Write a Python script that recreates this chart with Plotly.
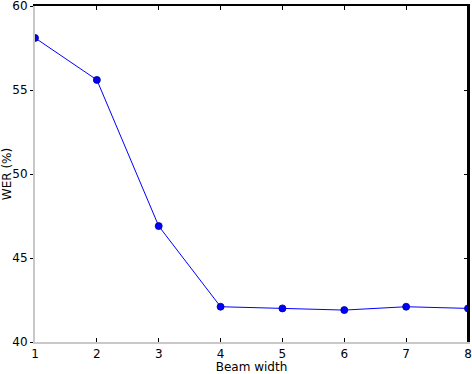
import plotly.graph_objects as go

beam_width = [1, 2, 3, 4, 5, 6, 7, 8]
wer = [58.1, 55.6, 46.9, 42.1, 42.0, 41.9, 42.1, 42.0]
x_ticks = [1, 2, 3, 4, 5, 6, 7, 8]
y_ticks = [40, 45, 50, 55, 60]

fig = go.Figure()
fig.add_trace(go.Scatter(
    x=beam_width, y=wer, mode="lines+markers",
    line=dict(color="#0000ff", width=1),
    marker=dict(color="#0000ff", size=7, line=dict(color="#000080", width=0.8)),
    showlegend=False, cliponaxis=True,
))
# invisible trace to anchor the mirrored (top/right) axes
fig.add_trace(go.Scatter(x=beam_width, y=wer, xaxis="x2", yaxis="y2",
                         mode="lines", line=dict(width=0), opacity=0,
                         showlegend=False, hoverinfo="skip"))

font = dict(family="DejaVu Sans", size=12, color="black")
fig.update_layout(
    width=472, height=374,
    margin=dict(l=35, r=4, t=6, b=32, autoexpand=False),
    plot_bgcolor="white", paper_bgcolor="white",
    font=font,
    xaxis=dict(range=[1, 8], tickvals=x_ticks, showgrid=False, zeroline=False,
               showline=True, linecolor="#c8c8c8", linewidth=2,
               ticks="inside", ticklen=4, tickcolor="black", tickwidth=1,
               automargin=False, ticklabeloverflow="allow",
               title=dict(text="Beam width", standoff=2, font=font)),
    yaxis=dict(range=[40, 60], tickvals=y_ticks, showgrid=False, zeroline=False,
               showline=True, linecolor="#c8c8c8", linewidth=2,
               ticks="outside", ticklen=3, tickcolor="black", tickwidth=1,
               automargin=False, ticklabeloverflow="allow",
               title=dict(text="WER (%)", standoff=4, font=font)),
    xaxis2=dict(range=[1, 8], tickvals=x_ticks, overlaying="x", side="top",
                showgrid=False, zeroline=False, showticklabels=False,
                showline=True, linecolor="black", linewidth=2, automargin=False,
                ticks="inside", ticklen=4, tickcolor="black", anchor="y2"),
    yaxis2=dict(range=[40, 60], tickvals=y_ticks, overlaying="y", side="right",
                showgrid=False, zeroline=False, showticklabels=False,
                showline=True, linecolor="black", linewidth=2, automargin=False,
                ticks="inside", ticklen=4, tickcolor="black", anchor="x2"),
    shapes=[dict(type="line", xref="paper", yref="paper", x0=1, x1=1, y0=0, y1=1,
                 line=dict(color="black", width=2), layer="above")],
)
fig.write_html("out.html", config={"displayModeBar": False},
               post_script="document.body.style.margin='0';document.body.style.padding='0';")
